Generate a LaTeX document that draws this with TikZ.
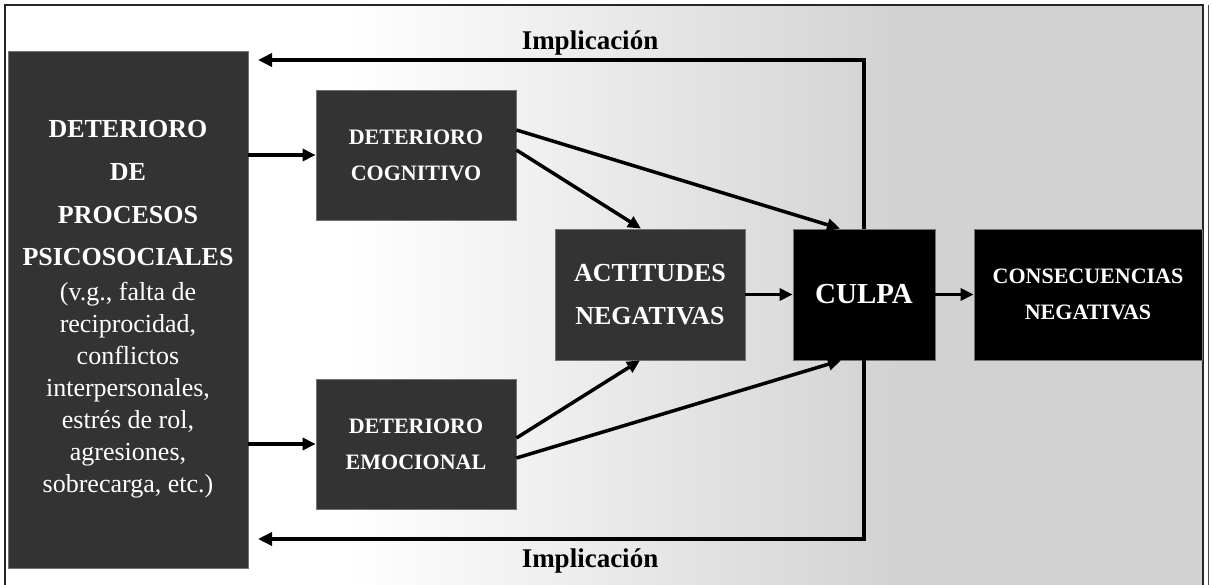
\documentclass[tikz,border=0pt]{standalone}
\usepackage{fontspec}
\setmainfont{Liberation Serif}
\usetikzlibrary{arrows.meta}
\definecolor{boxgrey}{HTML}{333333}
\definecolor{bggrey}{HTML}{D2D2D2}

\begin{document}
\begin{tikzpicture}[x=1pt, y=-1pt,
    darkbox/.style={rectangle, draw=black!55, line width=0.8pt, fill=boxgrey,
      text=white, align=center, inner sep=0pt},
    blackbox/.style={darkbox, fill=black},
    arr/.style={line width=3.5pt, -{Triangle[length=13pt, width=12pt]}},
    fback/.style={line width=4pt, -{Triangle[length=14pt, width=13pt]}},
    impl/.style={font=\fontsize{27}{27}\selectfont\bfseries}]
   %
   \useasboundingbox (0,0) rectangle (1213,585);
   \fill[white] (5,5) rectangle (350,585);
   \shade[left color=white, right color=bggrey] (350,5) rectangle (900,585);
   \fill[bggrey] (900,5) rectangle (1203,585);
   \draw[line width=1.5pt, black!85] (5,585) -- (5,5) -- (1203,5) -- (1203,585);
   \draw[line width=0.8pt, black!70] (1208,5) -- (1208,585);
   %
   \node[darkbox, minimum width=240pt, minimum height=517pt,
         font=\fontsize{26}{32}\selectfont] (procesos) at (128,309.5)
     {\textbf{DETERIORO}\\[11pt] \textbf{DE}\\[11pt] \textbf{PROCESOS}\\[10pt]
      \textbf{PSICOSOCIALES}\\[3pt] (v.g., falta de\\ reciprocidad,\\
      conflictos\\ interpersonales,\\ estrés de rol,\\ agresiones,\\
      sobrecarga, etc.)};
   %
   \node[darkbox, minimum width=200pt, minimum height=130pt,
         font=\fontsize{22}{36}\selectfont\bfseries] (cognitivo) at (416,155)
     {DETERIORO\\ COGNITIVO};
   \node[darkbox, minimum width=200pt, minimum height=130pt,
         font=\fontsize{22}{36}\selectfont\bfseries] (emocional) at (416,444)
     {DETERIORO\\ EMOCIONAL};
   %
   \node[darkbox, minimum width=190pt, minimum height=131pt,
         font=\fontsize{26}{43}\selectfont\bfseries] (actitudes) at (650,294.5)
     {ACTITUDES\\ NEGATIVAS};
   \node[blackbox, minimum width=142pt, minimum height=131pt,
         font=\fontsize{29}{29}\selectfont\bfseries] (culpa) at (864,294.5)
     {CULPA};
   \node[blackbox, minimum width=228pt, minimum height=131pt,
         font=\fontsize{22}{36}\selectfont\bfseries] (consecuencias) at (1088,294.5)
     {CONSECUENCIAS\\ NEGATIVAS};
   %
   \draw[arr] (procesos.east |- cognitivo.west) -- (cognitivo.west);
   \draw[arr] (procesos.east |- emocional.west) -- (emocional.west);
   %
   \draw[arr] ([yshift=5pt]cognitivo.east) -- ([xshift=-9pt]actitudes.north);
   \draw[arr] ([yshift=25pt]cognitivo.east) -- ([xshift=-24pt]culpa.north);
   \draw[arr] ([yshift=6pt]emocional.east) -- ([xshift=-10pt]actitudes.south);
   \draw[arr] ([yshift=-14pt]emocional.east) -- ([xshift=-23pt]culpa.south);
   %
   \draw[arr] (actitudes.east) -- (culpa.west);
   \draw[arr] (culpa.east) -- (consecuencias.west);
   %
   \coordinate (fbtop) at (258,60);
   \coordinate (fbbot) at (258,539);
   \draw[fback] (culpa.north) |- (fbtop);
   \draw[fback] (culpa.south) |- (fbbot);
   %
   \node[impl, anchor=base] (impltop) at (590,50) {Implicación};
   \node[impl, anchor=base] (implbot) at (590,567) {Implicación};
   %
\end{tikzpicture}
\end{document}
